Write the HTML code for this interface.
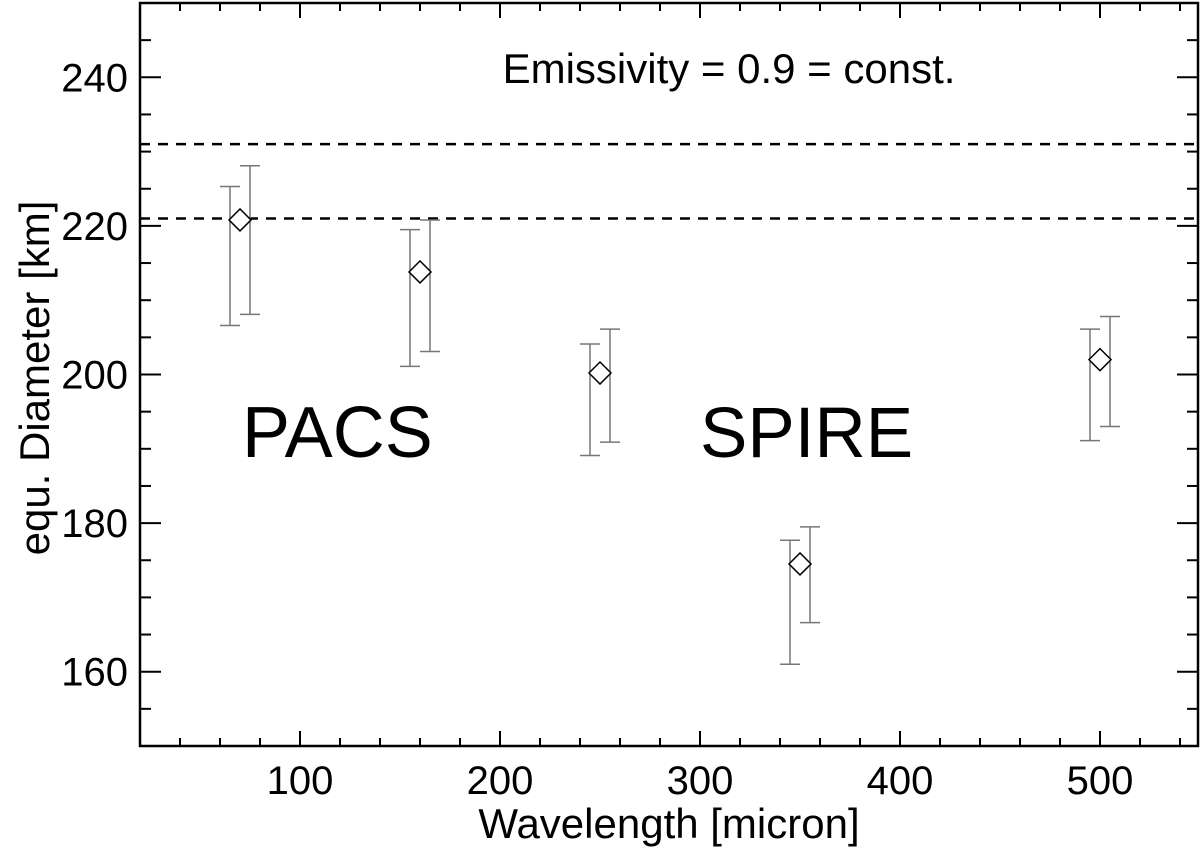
<!DOCTYPE html>
<html><head><meta charset="utf-8"><style>body{margin:0;background:#fff}svg{display:block;font-family:"Liberation Sans",Arial,sans-serif}</style></head>
<body>
<svg id="c" width="1200" height="852" viewBox="0 0 1200 852"></svg>
<script>
const wavelengths=[70,160,250,350,500];
const diam=[220.8,213.8,200.2,174.5,202];
const errAlo=[206.6,201.1,189.1,161,191.1];
const errAhi=[225.3,219.5,204.1,177.7,206.1];
const errBlo=[208.1,203.1,190.9,166.6,193];
const errBhi=[228.1,220.8,206.1,179.5,207.8];
const refLines=[231,221];
const xTicks=[100,200,300,400,500];
const yTicks=[160,180,200,220,240];
const L=140,R=1198,T=3,B=746,X0=20,X1=549,Y0=150,Y1=250;
const sx=v=>L+(v-X0)*(R-L)/(X1-X0);
const sy=v=>B-(v-Y0)*(B-T)/(Y1-Y0);
const svg=document.getElementById('c');
const NS='http://www.w3.org/2000/svg';
function mk(t,a,p){const e=document.createElementNS(NS,t);for(const k in a)e.setAttribute(k,a[k]);(p||svg).appendChild(e);return e;}
function line(x1,y1,x2,y2,st,w,d){return mk('line',{x1,y1,x2,y2,stroke:st,'stroke-width':w,'stroke-dasharray':d||'none'});}
refLines.forEach(v=>{const l=line(L,sy(v),R,sy(v),'#000',2.5,'10,8');

});
for(let v=40;v<=540;v+=20){const maj=v%100===0,len=maj?15:8;
line(sx(v),B,sx(v),B-len,'#000',2);line(sx(v),T,sx(v),T+len,'#000',2);}
for(let v=155;v<=250;v+=5){const maj=v%20===0,len=maj?21:11;
line(L,sy(v),L+len,sy(v),'#000',2);line(R,sy(v),R-len,sy(v),'#000',2);}
xTicks.forEach(v=>{const t=mk('text',{x:sx(v),y:794,'font-size':40,'text-anchor':'middle'});t.textContent=v;

});
yTicks.forEach(v=>{const t=mk('text',{x:128,y:sy(v)+14,'font-size':40,'text-anchor':'end'});t.textContent=v;

});
wavelengths.forEach((w,i)=>{const cx=sx(w);
[[cx-10,errAlo[i],errAhi[i]],[cx+10,errBlo[i],errBhi[i]]].forEach(([x,lo,hi])=>{
const g=mk('g',{});


g.appendChild(line(x,sy(lo),x,sy(hi),'#777',1.5));
g.appendChild(line(x-10,sy(lo),x+10,sy(lo),'#777',1.5));
g.appendChild(line(x-10,sy(hi),x+10,sy(hi),'#777',1.5));});
const y=sy(diam[i]),s=11;
const p=mk('polygon',{points:`${cx},${y-s} ${cx+s},${y} ${cx},${y+s} ${cx-s},${y}`,fill:'#fff',stroke:'#000','stroke-width':1.5});

});
const f=mk('rect',{x:L,y:T,width:R-L,height:B-T,fill:'none',stroke:'#000','stroke-width':2.5});


</script>
<svg style="position:absolute;left:0;top:0" width="1200" height="852">
<text x="729" y="83" font-size="42" text-anchor="middle" font-family="Liberation Sans,sans-serif">Emissivity = 0.9 = const.</text>
<text x="242" y="457" font-size="72" font-family="Liberation Sans,sans-serif">PACS</text>
<text x="700" y="457" font-size="71" font-family="Liberation Sans,sans-serif">SPIRE</text>
<text x="669" y="838" font-size="42" text-anchor="middle" font-family="Liberation Sans,sans-serif">Wavelength [micron]</text>
<text transform="translate(49,378) rotate(-90)" font-size="42" text-anchor="middle" font-family="Liberation Sans,sans-serif">equ. Diameter [km]</text>
</svg>
</body></html>
